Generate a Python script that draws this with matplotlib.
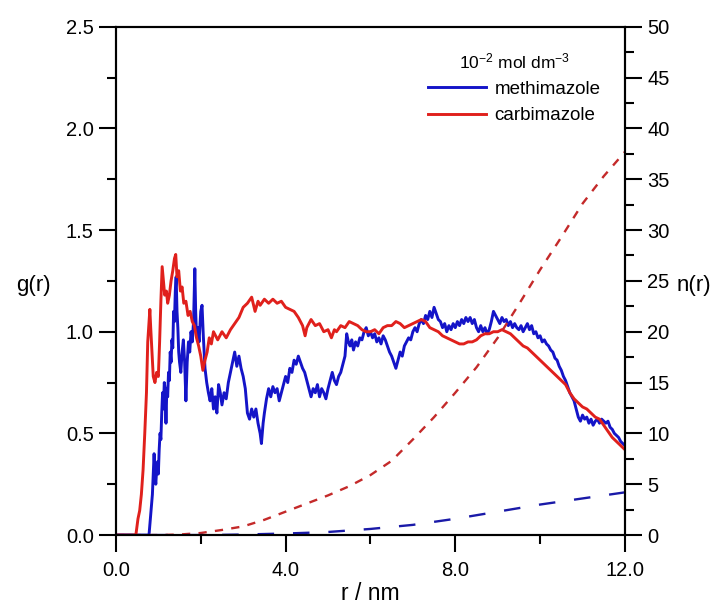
import numpy as np
import matplotlib.pyplot as plt
from matplotlib.ticker import MultipleLocator, FormatStrFormatter

plt.rcParams['font.family'] = ['Liberation Sans', 'DejaVu Sans']
plt.rcParams['mathtext.default'] = 'regular'

# g(r) carbimazole (red, solid)
r_carb = [0.0, 0.4, 0.47, 0.52, 0.56, 0.6, 0.64, 0.68, 0.72, 0.75, 0.78, 0.8, 0.82, 0.85, 0.88,
          0.92, 0.96, 1.0, 1.03, 1.06, 1.09, 1.12, 1.15, 1.19, 1.22, 1.26, 1.3, 1.34, 1.38, 1.41,
          1.44, 1.48, 1.52, 1.56, 1.6, 1.65, 1.7, 1.75, 1.8, 1.85, 1.9, 1.95, 2.0, 2.05, 2.1,
          2.15, 2.2, 2.25, 2.3, 2.4, 2.5, 2.6, 2.7, 2.8, 2.9, 3.0, 3.1, 3.2, 3.28, 3.35,
          3.4, 3.5, 3.6, 3.7, 3.8, 3.9, 4.0, 4.1, 4.2, 4.3, 4.4, 4.46, 4.5, 4.6, 4.7,
          4.8, 4.9, 5.0, 5.08, 5.15, 5.2, 5.3, 5.4, 5.5, 5.6, 5.7, 5.8, 5.9, 6.0, 6.1,
          6.2, 6.3, 6.4, 6.5, 6.6, 6.7, 6.8, 6.9, 7.0, 7.1, 7.2, 7.3, 7.4, 7.5, 7.6,
          7.7, 7.8, 7.9, 8.0, 8.1, 8.2, 8.3, 8.4, 8.5, 8.6, 8.7, 8.8, 8.9, 9.0, 9.1,
          9.2, 9.3, 9.4, 9.5, 9.6, 9.7, 9.8, 9.9, 10.0, 10.1, 10.2, 10.3, 10.4, 10.5, 10.6,
          10.7, 10.8, 10.9, 11.0, 11.1, 11.2, 11.3, 11.4, 11.5, 11.6, 11.7, 11.8, 11.9, 12.0]
g_carb = [0, 0, 0, 0.08, 0.12, 0.2, 0.32, 0.5, 0.7, 0.95, 1.05, 1.11, 1.02, 0.9, 0.78,
          0.75, 0.8, 0.78, 0.95, 1.15, 1.32, 1.25, 1.18, 1.2, 1.14, 1.18, 1.25, 1.3, 1.36, 1.38,
          1.27, 1.3, 1.2, 1.22, 1.14, 1.15, 1.08, 1.1, 1.05, 1.03, 0.97, 0.93, 0.88, 0.81, 0.86,
          0.9, 0.97, 0.94, 1.0, 0.96, 1.0, 0.97, 1.01, 1.04, 1.07, 1.12, 1.14, 1.17, 1.10, 1.15,
          1.13, 1.16, 1.14, 1.16, 1.14, 1.15, 1.12, 1.11, 1.10, 1.07, 1.03, 0.98, 1.02, 1.06, 1.03,
          1.04, 1.0, 1.01, 0.97, 1.01, 1.0, 1.03, 1.02, 1.05, 1.04, 1.03, 1.01, 1.0, 1.0, 1.01,
          0.99, 1.02, 1.03, 1.03, 1.05, 1.04, 1.02, 1.03, 1.04, 1.05, 1.06, 1.05, 1.02, 1.01, 1.0,
          0.98, 0.97, 0.96, 0.95, 0.94, 0.94, 0.95, 0.95, 0.96, 0.98, 0.99, 0.99, 1.0, 1.0, 1.01,
          1.0, 0.99, 0.97, 0.95, 0.93, 0.92, 0.9, 0.88, 0.86, 0.84, 0.82, 0.8, 0.78, 0.76, 0.74,
          0.70, 0.67, 0.65, 0.63, 0.62, 0.6, 0.58, 0.57, 0.54, 0.51, 0.48, 0.46, 0.44, 0.42]

# g(r) methimazole (blue, solid)
r_meth = [0.0, 0.78, 0.8, 0.83, 0.86, 0.88, 0.9, 0.92, 0.94, 0.96, 0.98, 1.0, 1.02, 1.04, 1.06,
          1.08, 1.1, 1.12, 1.14, 1.16, 1.18, 1.2, 1.22, 1.24, 1.26, 1.28, 1.3, 1.32, 1.34, 1.36,
          1.38, 1.4, 1.42, 1.44, 1.46, 1.48, 1.5, 1.53, 1.56, 1.59, 1.62, 1.65, 1.68, 1.71, 1.74,
          1.77, 1.8, 1.83, 1.86, 1.88, 1.9, 1.93, 1.96, 2.0, 2.03, 2.06, 2.1, 2.14, 2.18, 2.22,
          2.26, 2.3, 2.34, 2.38, 2.42, 2.46, 2.5, 2.55, 2.6, 2.65, 2.7, 2.75, 2.8, 2.85, 2.9,
          2.95, 3.0, 3.05, 3.1, 3.15, 3.2, 3.25, 3.3, 3.35, 3.4, 3.43, 3.47, 3.5, 3.55, 3.6,
          3.65, 3.7, 3.75, 3.8, 3.85, 3.9, 3.95, 4.0, 4.05, 4.1, 4.15, 4.2, 4.25, 4.3, 4.35,
          4.4, 4.45, 4.5, 4.55, 4.6, 4.65, 4.7, 4.75, 4.8, 4.85, 4.9, 4.95, 5.0, 5.05, 5.1,
          5.15, 5.2, 5.25, 5.3, 5.35, 5.4, 5.44, 5.48, 5.52, 5.56, 5.6, 5.65, 5.7, 5.75, 5.8,
          5.85, 5.9, 5.95, 6.0, 6.05, 6.1, 6.15, 6.2, 6.25, 6.3, 6.35, 6.4, 6.45, 6.5, 6.55,
          6.6, 6.65, 6.7, 6.75, 6.8, 6.85, 6.9, 6.95, 7.0, 7.05, 7.1, 7.15, 7.2, 7.25, 7.3,
          7.35, 7.4, 7.45, 7.5, 7.55, 7.6, 7.65, 7.7, 7.75, 7.8, 7.85, 7.9, 7.95, 8.0, 8.05,
          8.1, 8.15, 8.2, 8.25, 8.3, 8.35, 8.4, 8.45, 8.5, 8.55, 8.6, 8.65, 8.7, 8.75, 8.8,
          8.85, 8.9, 8.95, 9.0, 9.05, 9.1, 9.15, 9.2, 9.25, 9.3, 9.35, 9.4, 9.45, 9.5, 9.55,
          9.6, 9.65, 9.7, 9.75, 9.8, 9.85, 9.9, 9.95, 10.0, 10.05, 10.1, 10.15, 10.2, 10.25, 10.3,
          10.35, 10.4, 10.45, 10.5, 10.55, 10.6, 10.65, 10.7, 10.75, 10.8, 10.85, 10.9, 10.95, 11.0, 11.05,
          11.1, 11.15, 11.2, 11.25, 11.3, 11.35, 11.4, 11.45, 11.5, 11.55, 11.6, 11.65, 11.7, 11.75, 11.8,
          11.85, 11.9, 11.95, 12.0]
g_meth = [0, 0, 0.05, 0.12, 0.2, 0.3, 0.4, 0.3, 0.25, 0.32, 0.36, 0.3, 0.42, 0.5, 0.47,
          0.6, 0.7, 0.62, 0.75, 0.72, 0.55, 0.72, 0.68, 0.8, 0.76, 0.9, 0.85, 0.96, 0.92, 1.1,
          1.05, 1.2, 1.27, 1.1, 1.02, 0.9, 0.85, 0.8, 0.9, 0.96, 0.85, 0.66, 0.85, 0.95, 0.9,
          1.0, 0.95, 1.05, 1.31, 1.1, 0.98, 1.02, 0.95, 1.1, 1.13, 0.98, 0.82, 0.75, 0.7, 0.66,
          0.72, 0.62, 0.68, 0.6, 0.74, 0.7, 0.64, 0.7, 0.67, 0.75, 0.8, 0.85, 0.9, 0.83, 0.88,
          0.82, 0.78, 0.72, 0.6, 0.57, 0.62, 0.58, 0.62, 0.55, 0.5, 0.45, 0.55, 0.6, 0.67, 0.72,
          0.68, 0.73, 0.7, 0.72, 0.66, 0.7, 0.74, 0.78, 0.75, 0.82, 0.8, 0.86, 0.84, 0.88, 0.85,
          0.82, 0.8, 0.76, 0.72, 0.68, 0.72, 0.7, 0.74, 0.68, 0.72, 0.7, 0.67, 0.72, 0.76, 0.8,
          0.76, 0.74, 0.78, 0.8, 0.84, 0.88, 0.99, 0.95, 0.93, 0.96, 0.91, 0.95, 0.93, 0.97, 0.96,
          1.0, 1.02, 0.98, 1.0, 0.97, 0.99, 0.95, 0.97, 0.94, 0.98, 0.96, 0.93, 0.9, 0.88, 0.85,
          0.82, 0.86, 0.9, 0.88, 0.93, 0.95, 0.97, 0.96, 1.0, 1.02, 1.0, 1.04, 1.06, 1.04, 1.08,
          1.06, 1.1, 1.07, 1.12, 1.09, 1.06, 1.05, 1.02, 1.04, 1.0, 1.03, 1.01, 1.04, 1.02, 1.05,
          1.03, 1.06, 1.04, 1.07, 1.05, 1.07, 1.04, 1.06, 1.02, 1.0, 1.03, 1.0, 1.02, 0.99, 1.01,
          1.05, 1.1, 1.08, 1.06, 1.04, 1.07, 1.05, 1.06, 1.03, 1.05, 1.02, 1.04, 1.02, 1.01, 1.03,
          1.0, 1.02, 1.04, 1.01, 1.03, 0.99, 1.0, 0.97, 0.98, 0.95, 0.96, 0.94, 0.93, 0.91, 0.9,
          0.87, 0.86, 0.83, 0.81, 0.78, 0.76, 0.73, 0.7, 0.68, 0.66, 0.62, 0.58, 0.56, 0.59, 0.57,
          0.58, 0.55, 0.57, 0.54, 0.56, 0.57, 0.55, 0.57, 0.56, 0.55, 0.56, 0.53, 0.52, 0.5, 0.49,
          0.48, 0.46, 0.45, 0.44]

# n(r) running coordination numbers (dashed)
r_n = [0.0, 1.0, 1.5, 2.0, 2.5, 3.0, 3.5, 4.0, 4.5, 5.0, 5.5, 6.0, 6.5, 7.0, 7.5, 8.0,
       8.5, 9.0, 9.5, 10.0, 10.5, 11.0, 11.5, 12.0]
n_carb = [0, 0, 0.05, 0.2, 0.5, 0.85, 1.5, 2.3, 3.1, 3.9, 4.8, 5.9, 7.3, 9.4, 11.6, 14.0,
          16.5, 19.4, 22.7, 26.1, 29.3, 32.6, 35.3, 37.7]
n_meth = [0, 0, 0, 0.0, 0.02, 0.05, 0.1, 0.15, 0.22, 0.3, 0.45, 0.6, 0.8, 1.0, 1.3, 1.6,
          1.95, 2.3, 2.65, 3.0, 3.3, 3.6, 3.9, 4.2]

blue = '#1414c8'
red = '#e0201c'

fig = plt.figure(figsize=(7.2, 6.08), dpi=100)
ax = fig.add_axes([0.161, 0.12, 0.707, 0.836])
ax2 = ax.twinx()

ax.plot(r_meth, g_meth, color=blue, lw=2.1, label='methimazole')
ax.plot(r_carb, g_carb, color=red, lw=2.1, label='carbimazole')
ax2.plot(r_n, n_carb, color='#c42a2a', lw=1.7, dashes=(3.5, 3.5))
ax2.plot(r_n, n_meth, color='#1a1aa8', lw=1.7, dashes=(7, 8))

ax.set_xlim(0, 12)
ax.set_ylim(0, 2.5)
ax2.set_ylim(0, 50)

ax.xaxis.set_major_locator(MultipleLocator(4))
ax.xaxis.set_minor_locator(MultipleLocator(2))
ax.xaxis.set_major_formatter(FormatStrFormatter('%.1f'))
ax.yaxis.set_major_locator(MultipleLocator(0.5))
ax.yaxis.set_minor_locator(MultipleLocator(0.25))
ax.yaxis.set_major_formatter(FormatStrFormatter('%.1f'))
ax2.yaxis.set_major_locator(MultipleLocator(5))
ax2.yaxis.set_minor_locator(MultipleLocator(2.5))

for a in (ax, ax2):
    a.tick_params(which='major', direction='out', length=12, width=1.5, labelsize=14.5, pad=4)
    a.tick_params(which='minor', direction='out', length=6.5, width=1.5)
    for s in a.spines.values():
        s.set_linewidth(1.5)
ax.tick_params(axis='x', pad=7)

ax.set_xlabel('r / nm', fontsize=16.5, labelpad=1)
fig.text(0.022, 0.53, 'g(r)', fontsize=16, va='center', ha='left')
fig.text(0.94, 0.53, 'n(r)', fontsize=16, va='center', ha='left')

leg = ax.legend(loc='upper right', bbox_to_anchor=(0.985, 0.985), frameon=False,
                fontsize=13.5, handlelength=3.1, handletextpad=0.45, labelspacing=0.5,
                title='10$^{-2}$ mol dm$^{-3}$', title_fontsize=12.5)

fig.savefig('out.png', dpi=100)
